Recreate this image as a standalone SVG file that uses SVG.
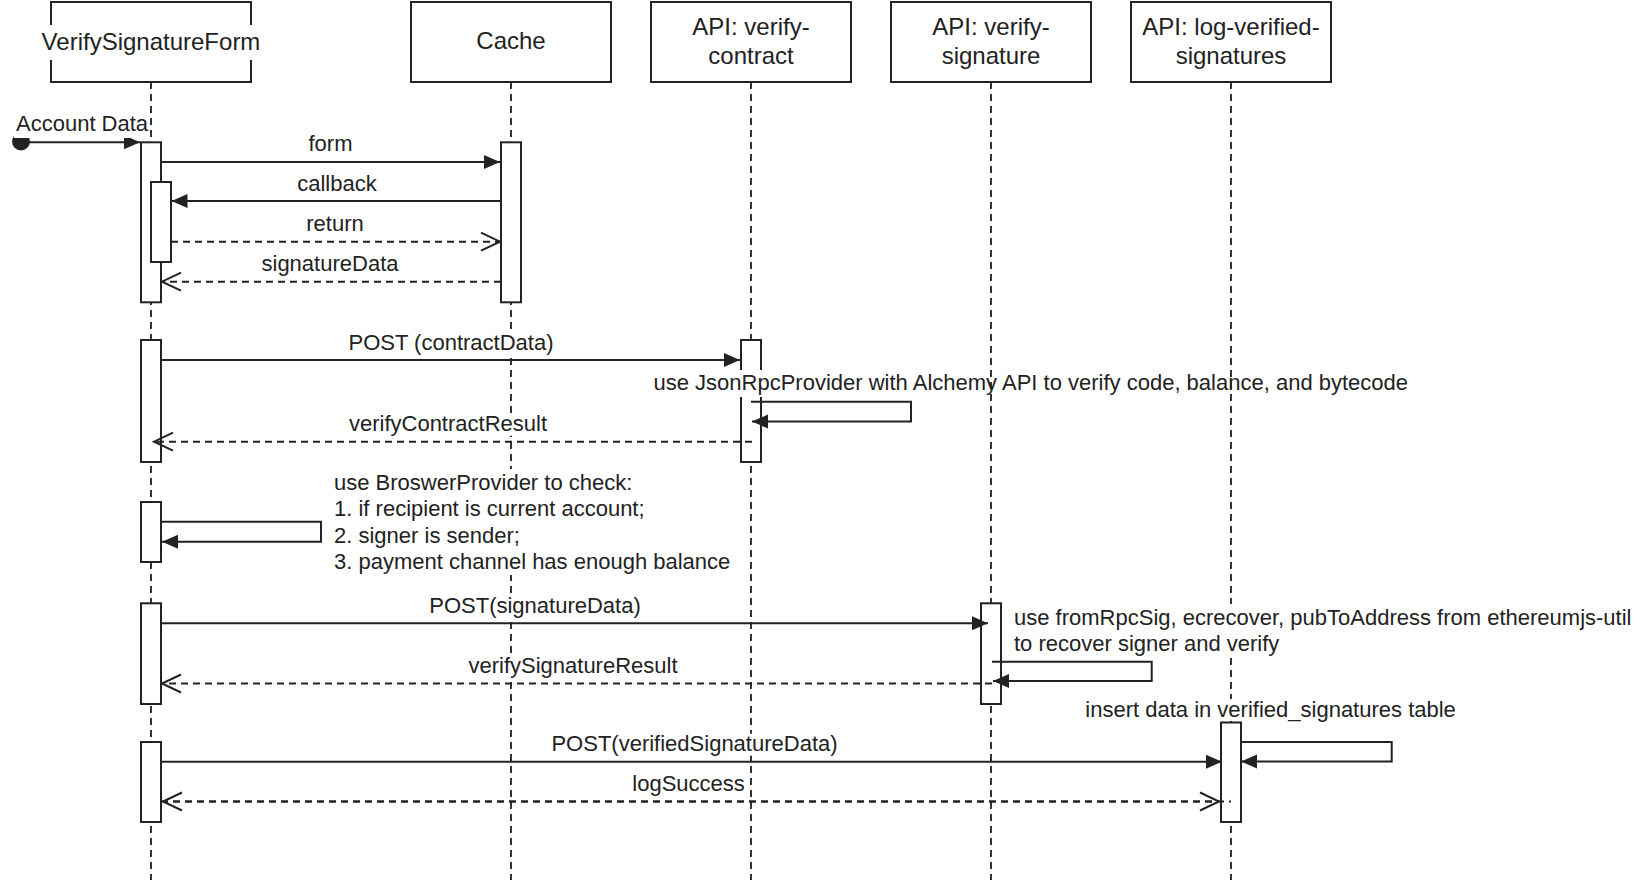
<svg xmlns="http://www.w3.org/2000/svg" width="1636" height="880" viewBox="0 0 1636 880">
<style>
  .box { fill: #ffffff; stroke: #222; stroke-width: 2; }
  .act { fill: #ffffff; stroke: #222; stroke-width: 2; }
  .life { fill: none; stroke: #333; stroke-width: 2; stroke-dasharray: 7 5; }
  .msg { fill: none; stroke: #222; stroke-width: 2; }
  .ret { fill: none; stroke: #222; stroke-width: 2; stroke-dasharray: 7 5; }
  .title { font-family: "Liberation Sans", Arial, Helvetica, sans-serif; font-size: 24px; fill: #222; text-anchor: middle; }
  .lbl { font-family: "Liberation Sans", Arial, Helvetica, sans-serif; font-size: 22px; fill: #222; }
  .mid { text-anchor: middle; }
  .bg { fill: #ffffff; stroke: none; }
</style>
<defs>
  <marker id="block" markerUnits="userSpaceOnUse" markerWidth="16" markerHeight="14" refX="16" refY="7" orient="auto" viewBox="0 0 16 14" overflow="visible">
    <path d="M0,0 L16,7 L0,14 z" fill="#222"/>
  </marker>
  <marker id="open" markerUnits="userSpaceOnUse" markerWidth="22" markerHeight="20" refX="20" refY="10" orient="auto" viewBox="0 0 22 20" overflow="visible">
    <path d="M1,1 L20,10 L1,19" fill="none" stroke="#222" stroke-width="2"/>
  </marker>
</defs>

<g id="verify-signature-form">
  <line class="life" x1="151" y1="82" x2="151" y2="880"/>
  <rect class="box" x="51" y="2" width="200" height="80"/>
  <rect class="bg" x="38" y="25" width="226" height="35"/>
  <text class="title" x="151" y="50">VerifySignatureForm</text>
  <rect class="act" x="141" y="142.3" width="20" height="160"/>
  <rect class="act" x="151" y="182" width="20" height="80"/>
  <rect class="act" x="141" y="340" width="20" height="122"/>
  <rect class="act" x="141" y="502" width="20" height="60"/>
  <rect class="act" x="141" y="603.3" width="20" height="100.7"/>
  <rect class="act" x="141" y="742" width="20" height="80"/>
</g>

<g id="cache">
  <line class="life" x1="511" y1="82" x2="511" y2="880"/>
  <rect class="box" x="411" y="2" width="200" height="80"/>
  <text class="title" x="511" y="49">Cache</text>
  <rect class="act" x="501" y="142.3" width="20" height="160"/>
</g>

<g id="api-verify-contract">
  <line class="life" x1="751" y1="82" x2="751" y2="880"/>
  <rect class="box" x="651" y="2" width="200" height="80"/>
  <text class="title" x="751" y="35">API: verify-</text>
  <text class="title" x="751" y="63.8">contract</text>
  <rect class="act" x="741" y="340" width="20" height="122"/>
</g>

<g id="api-verify-signature">
  <line class="life" x1="991" y1="82" x2="991" y2="880"/>
  <rect class="box" x="891" y="2" width="200" height="80"/>
  <text class="title" x="991" y="35">API: verify-</text>
  <text class="title" x="991" y="63.8">signature</text>
  <rect class="act" x="981" y="603.3" width="20" height="100.7"/>
</g>

<g id="api-log-verified-signatures">
  <line class="life" x1="1231" y1="82" x2="1231" y2="880"/>
  <rect class="box" x="1131" y="2" width="200" height="80"/>
  <text class="title" x="1231" y="35">API: log-verified-</text>
  <text class="title" x="1231" y="63.8">signatures</text>
  <rect class="act" x="1221" y="722.5" width="20" height="99.5"/>
</g>

<g id="connectors">
  <!-- Account Data -->
  <circle cx="21" cy="141.5" r="9" fill="#222"/>
  <path class="msg" d="M21,142.3 L140,142.3" marker-end="url(#block)"/>
  <rect class="bg" x="14" y="112" width="134" height="26"/>
  <text class="lbl" x="16" y="130.7">Account Data</text>

  <!-- form -->
  <path class="msg" d="M161,162 L500,162" marker-end="url(#block)"/>
  <rect class="bg" x="307" y="134" width="47" height="22"/>
  <text class="lbl mid" x="330.5" y="151">form</text>

  <!-- callback -->
  <path class="msg" d="M501,201 L171.5,201" marker-end="url(#block)"/>
  <rect class="bg" x="295" y="173.5" width="84" height="22"/>
  <text class="lbl mid" x="337" y="190.5">callback</text>

  <!-- return -->
  <path class="ret" d="M171,241.7 L500,241.7" marker-end="url(#open)"/>
  <rect class="bg" x="304" y="213.7" width="62" height="22"/>
  <text class="lbl mid" x="335" y="230.7">return</text>

  <!-- signatureData -->
  <path class="ret" d="M501,281.7 L162,281.7" marker-end="url(#open)"/>
  <rect class="bg" x="259" y="253.7" width="142" height="22"/>
  <text class="lbl mid" x="330" y="270.7">signatureData</text>

  <!-- POST (contractData) -->
  <path class="msg" d="M161,360 L740,360" marker-end="url(#block)"/>
  <rect class="bg" x="345" y="332.5" width="212" height="22"/>
  <text class="lbl mid" x="451" y="349.5">POST (contractData)</text>

  <!-- verify-contract self call -->
  <path class="msg" d="M751,401.7 L911,401.7 L911,421.5 L752,421.5" marker-end="url(#block)"/>
  <rect class="bg" x="650" y="370" width="335" height="27"/>
  <text class="lbl" x="653.5" y="390">use JsonRpcProvider with Alchemy API to verify code, balance, and bytecode</text>

  <!-- verifyContractResult -->
  <path class="ret" d="M752,441.7 L154,441.7" marker-end="url(#open)"/>
  <rect class="bg" x="345" y="413.7" width="206" height="22"/>
  <text class="lbl mid" x="448" y="430.7">verifyContractResult</text>

  <!-- BrowserProvider self call -->
  <path class="msg" d="M161,521.7 L321,521.7 L321,541.7 L162,541.7" marker-end="url(#block)"/>
  <rect class="bg" x="331" y="469" width="378" height="106"/>
  <text class="lbl" x="334" y="490">use BroswerProvider to check:</text>
  <text class="lbl" x="334" y="516.4">1. if recipient is current account;</text>
  <text class="lbl" x="334" y="542.8">2. signer is sender;</text>
  <text class="lbl" x="334" y="569.2">3. payment channel has enough balance</text>

  <!-- POST(signatureData) -->
  <path class="msg" d="M161,623.3 L988,623.3" marker-end="url(#block)"/>
  <rect class="bg" x="425" y="595.5" width="220" height="22"/>
  <text class="lbl mid" x="535" y="612.5">POST(signatureData)</text>

  <!-- verify-signature self call -->
  <path class="msg" d="M992,661.7 L1151.7,661.7 L1151.7,681 L993,681" marker-end="url(#block)"/>
  <rect class="bg" x="1011" y="604" width="624" height="53"/>
  <text class="lbl" x="1014" y="625">use fromRpcSig, ecrecover, pubToAddress from ethereumjs-util</text>
  <text class="lbl" x="1014" y="651">to recover signer and verify</text>

  <!-- verifySignatureResult -->
  <path class="ret" d="M992,683.5 L162,683.5" marker-end="url(#open)"/>
  <rect class="bg" x="463" y="655.5" width="220" height="22"/>
  <text class="lbl mid" x="573" y="672.5">verifySignatureResult</text>

  <!-- POST(verifiedSignatureData) -->
  <path class="msg" d="M161,761.7 L1222,761.7" marker-end="url(#block)"/>
  <rect class="bg" x="548" y="733.7" width="293" height="22"/>
  <text class="lbl mid" x="694.5" y="750.7">POST(verifiedSignatureData)</text>

  <!-- log self call -->
  <path class="msg" d="M1241,742 L1391.7,742 L1391.7,761.5 L1241,761.5" marker-end="url(#block)"/>
  <rect class="bg" x="1082" y="699" width="378" height="22"/>
  <text class="lbl" x="1085.3" y="716.7">insert data in verified_signatures table</text>

  <!-- logSuccess -->
  <path class="ret" d="M161,801.5 L1219,801.5" marker-end="url(#open)"/>
  <path class="ret" d="M1231,801.5 L163,801.5" stroke-dashoffset="5" marker-end="url(#open)"/>
  <rect class="bg" x="628" y="773.5" width="121" height="22"/>
  <text class="lbl mid" x="688.6" y="790.5">logSuccess</text>
</g>
</svg>
